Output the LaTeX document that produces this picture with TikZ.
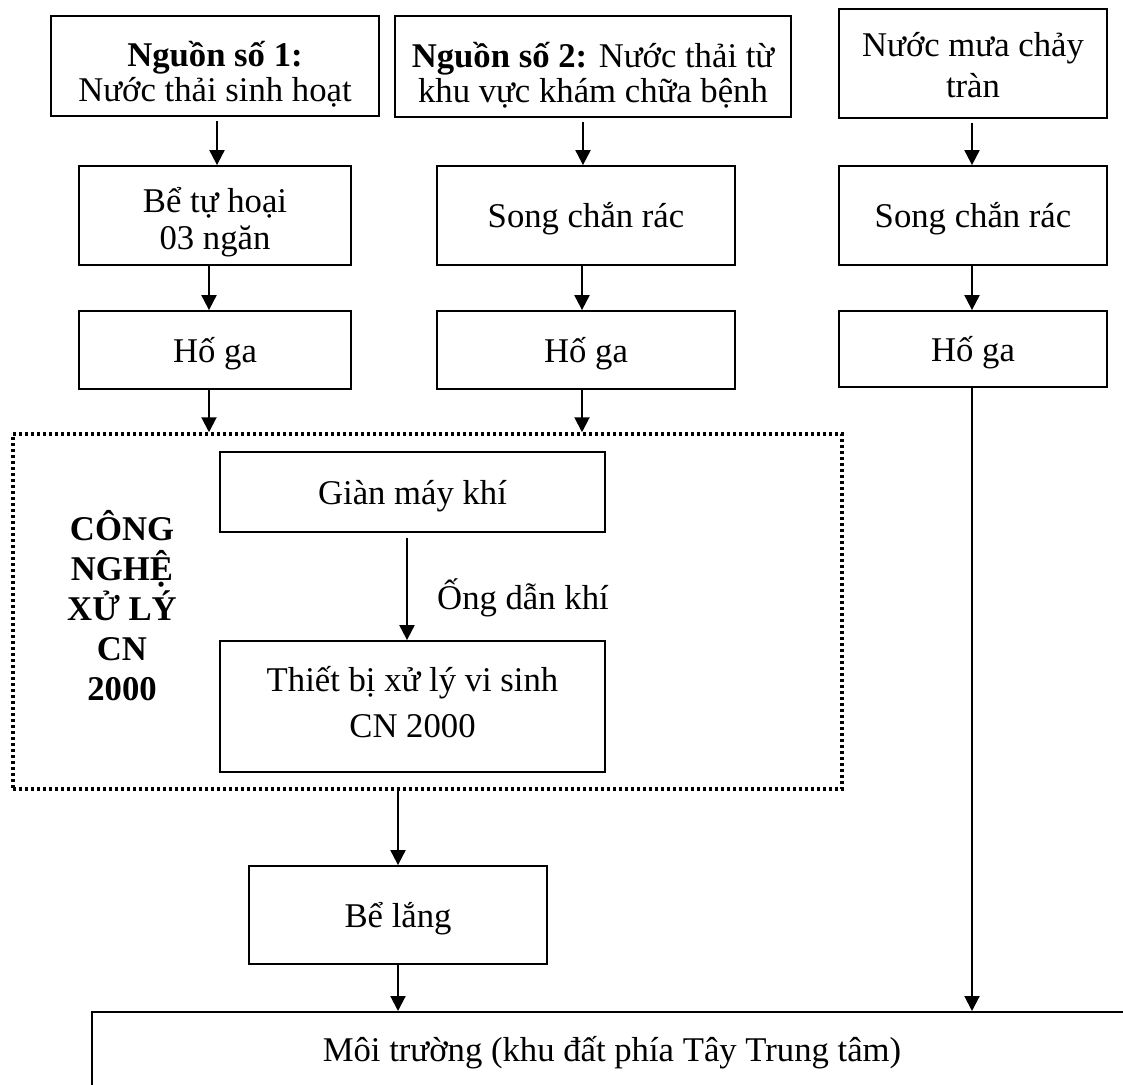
\documentclass[tikz,border=0pt]{standalone}
\usepackage{fontspec}
\setmainfont{Liberation Serif}
\usetikzlibrary{arrows.meta}
\newcommand{\topstrut}[1]{\rule{0pt}{#1}}
\begin{document}
\setlength{\lineskiplimit}{-100pt}
\begin{tikzpicture}[x=1pt,y=-1pt,
  txt/.style={font=\fontsize{34.7}{36}\selectfont, align=center, inner sep=0pt},
  box/.style={txt, draw, line width=1.8pt,
    execute at begin node={\rule{0pt}{34pt}},
    execute at end node={\rule[-10pt]{0pt}{10pt}}},
  arr/.style={line width=2pt, -{Triangle[length=15pt,width=15pt]}},
  dotbox/.style={draw, line width=3.5pt, dash pattern=on 3pt off 3pt, inner sep=0pt}]
\path[use as bounding box, clip] (0,0) rectangle (1123,1084);

% sources
\node[box, minimum width=328pt, minimum height=100pt,
  font=\fontsize{34.7}{35}\selectfont] (src1) at (215,66)
  {\topstrut{46pt}\textbf{Nguồn số 1:}\\Nước thải sinh hoạt};
\node[box, minimum width=396pt, minimum height=101pt,
  font=\fontsize{34.7}{35}\selectfont] (src2) at (593,66.5)
  {\topstrut{46pt}\textbf{Nguồn số 2:} Nước thải từ\\khu vực khám chữa bệnh};
\node[box, minimum width=268pt, minimum height=109pt,
  font=\fontsize{34.7}{41}\selectfont] (src3) at (973,63.5)
  {\topstrut{37pt}Nước mưa chảy\\tràn};

% first treatment stage
\node[box, minimum width=272pt, minimum height=99pt,
  font=\fontsize{34.7}{37}\selectfont] (septic) at (215,215.5)
  {\topstrut{40pt}Bể tự hoại\\03 ngăn};
\node[box, minimum width=298pt, minimum height=99pt] (screen2) at (586,215.5)
  {Song chắn rác};
\node[box, minimum width=268pt, minimum height=99pt] (screen3) at (973,215.5)
  {Song chắn rác};

% manholes
\node[box, minimum width=272pt, minimum height=78pt] (pit1) at (215,350) {Hố ga};
\node[box, minimum width=298pt, minimum height=78pt] (pit2) at (586,350) {Hố ga};
\node[box, minimum width=268pt, minimum height=76pt] (pit3) at (973,349) {Hố ga};

% CN 2000 treatment unit
\node[dotbox, minimum width=829pt, minimum height=355pt] (cn) at (427.5,611.5) {};
\node[txt, font=\fontsize{34.7}{40}\selectfont\bfseries] (cnlabel) at (122,606)
  {CÔNG\\NGHỆ\\XỬ LÝ\\CN\\2000};
\node[box, minimum width=385pt, minimum height=80pt] (blower) at (412.5,492) {Giàn máy khí};
\node[box, minimum width=385pt, minimum height=131pt,
  font=\fontsize{34.7}{46}\selectfont] (bio) at (412.5,706.5)
  {Thiết bị xử lý vi sinh\\CN 2000};
\node[txt, anchor=west] (pipe) at (437,598) {Ống dẫn khí};

% settling tank and receiving environment
\node[box, minimum width=298pt, minimum height=98pt] (settle) at (398,915) {Bể lắng};
\node[draw, line width=1.8pt, anchor=north west, minimum width=1100pt,
  minimum height=200pt, inner sep=0pt] (env) at (91,1011) {};
\node[txt] (envtext) at (612,1053) {Môi trường (khu đất phía Tây Trung tâm)};

% flows
\draw[arr] ([xshift=2pt,yshift=-4pt]septic.north |- src1.south) -- ([xshift=2pt]septic.north);
\draw[arr] ([xshift=-6pt]septic.south) -- ([xshift=-6pt]pit1.north);
\draw[arr] ([xshift=-6pt]pit1.south) -- ([xshift=-6pt]pit1.south |- cn.north);
\draw[arr] ([xshift=-3pt,yshift=-4pt]screen2.north |- src2.south) -- ([xshift=-3pt]screen2.north);
\draw[arr] ([xshift=-4pt]screen2.south) -- ([xshift=-4pt]pit2.north);
\draw[arr] ([xshift=-4pt]pit2.south) -- ([xshift=-4pt]pit2.south |- cn.north);
\draw[arr] ([xshift=-1pt,yshift=-4pt]src3.south) -- ([xshift=-1pt]screen3.north);
\draw[arr] ([xshift=-1pt]screen3.south) -- ([xshift=-1pt]pit3.north);
\draw[arr] ([xshift=-1pt]pit3.south) -- ([xshift=-1pt]pit3.south |- env.north);
\draw[arr] ([xshift=-5.5pt,yshift=-5pt]blower.south) -- ([xshift=-5.5pt]bio.north);
\draw[arr] (settle.north |- cn.south) -- (settle.north);
\draw[arr] (settle.south) -- (settle.south |- env.north);
\end{tikzpicture}
\end{document}
